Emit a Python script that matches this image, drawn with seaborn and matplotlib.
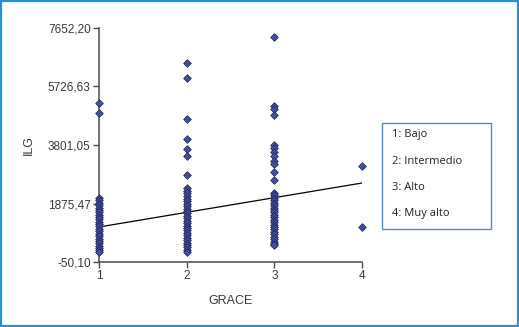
import matplotlib
matplotlib.use("Agg")
import matplotlib.pyplot as plt
import seaborn as sns
import pandas as pd
from matplotlib.patches import Rectangle

# ---- data ----
grace_1 = [5184, 4855, 2057, 1980, 1900, 1820, 1740, 1660, 1590, 1510, 1430, 1350,
           1280, 1200, 1120, 1040, 960, 880, 800, 720, 640, 560, 480, 400, 330, 279]
grace_2 = [6500, 6007, 4657, 3999, 3670, 3439, 2814, 2386, 2300, 2210, 2120, 2030,
           1950, 1870, 1790, 1710, 1630, 1550, 1470, 1390, 1310, 1230, 1150, 1070,
           990, 910, 830, 750, 670, 590, 510, 430, 350, 279]
grace_3 = [7356, 5085, 4986, 4789, 3801, 3702, 3571, 3439, 3274, 3176, 2913, 2649,
           2221, 2140, 2060, 1980, 1900, 1820, 1740, 1660, 1580, 1500, 1420, 1340,
           1260, 1180, 1100, 1020, 940, 860, 780, 700, 620, 550, 510]
grace_4 = [3110, 1102]

fit_x = [1, 4]
fit_y = [1102, 2550]

y_ticks = [-50.10, 1875.47, 3801.05, 5726.63, 7652.20]
y_tick_labels = ["-50,10", "1875,47", "3801,05", "5726,63", "7652,20"]
x_ticks = [1, 2, 3, 4]
legend_lines = ["1: Bajo", "2: Intermedio", "3: Alto", "4: Muy alto"]

df = pd.DataFrame({
    "GRACE": [1] * len(grace_1) + [2] * len(grace_2) + [3] * len(grace_3) + [4] * len(grace_4),
    "ILG": grace_1 + grace_2 + grace_3 + grace_4,
})
fit = pd.DataFrame({"GRACE": fit_x, "ILG": fit_y})

sns.set_style("white")
plt.rcParams["font.family"] = ["Liberation Sans", "DejaVu Sans"]

fig = plt.figure(figsize=(5.19, 3.27), dpi=100)
ax = fig.add_axes([99 / 519, 1 - 262 / 327, (362 - 99) / 519, (262 - 28) / 327])

sns.lineplot(data=fit, x="GRACE", y="ILG", ax=ax, color="black", linewidth=0.9,
             zorder=2)
sns.scatterplot(data=df, x="GRACE", y="ILG", ax=ax, marker="D", s=15,
                color="#42509c", edgecolor="#262b68", linewidth=0.6,
                clip_on=False, zorder=3)

ax.set_xlim(1, 4)
ax.set_ylim(-50.10, 7652.20)
ax.set_xticks(x_ticks)
ax.set_xticklabels([str(t) for t in x_ticks])
ax.set_yticks(y_ticks)
ax.set_yticklabels(y_tick_labels)

for s in ["top", "right"]:
    ax.spines[s].set_visible(False)
for s in ["left", "bottom"]:
    ax.spines[s].set_color("#4a4a4a")
    ax.spines[s].set_linewidth(1.1)
ax.tick_params(axis="both", direction="out", length=4, width=1, color="#4a4a4a",
               labelsize=8.5, labelcolor="#3a3a3a", pad=2, left=True, bottom=True)

ax.set_xlabel("GRACE", fontsize=9, color="#3a3a3a", labelpad=9)
ax.set_ylabel("ILG", fontsize=9, color="#3a3a3a", labelpad=9)

# legend box (text key)
box = Rectangle((382 / 519, 1 - 229 / 327), (491 - 382) / 519, (229 - 123) / 327,
                transform=fig.transFigure, fill=True, facecolor="white",
                edgecolor="#5b86c4", linewidth=1.0)
fig.add_artist(box)
for i, t in enumerate(legend_lines):
    fig.text(392 / 519, 1 - (135 + i * 26.3) / 327, t, fontsize=8,
             family=["Open Sans", "DejaVu Sans"], color="#222222", va="center")

# outer frame
frame = Rectangle((0.002, 0.003), 0.996, 0.994, transform=fig.transFigure,
                  fill=False, edgecolor="#2b8fd3", linewidth=1.6)
fig.add_artist(frame)

fig.savefig("out.png", dpi=100)
